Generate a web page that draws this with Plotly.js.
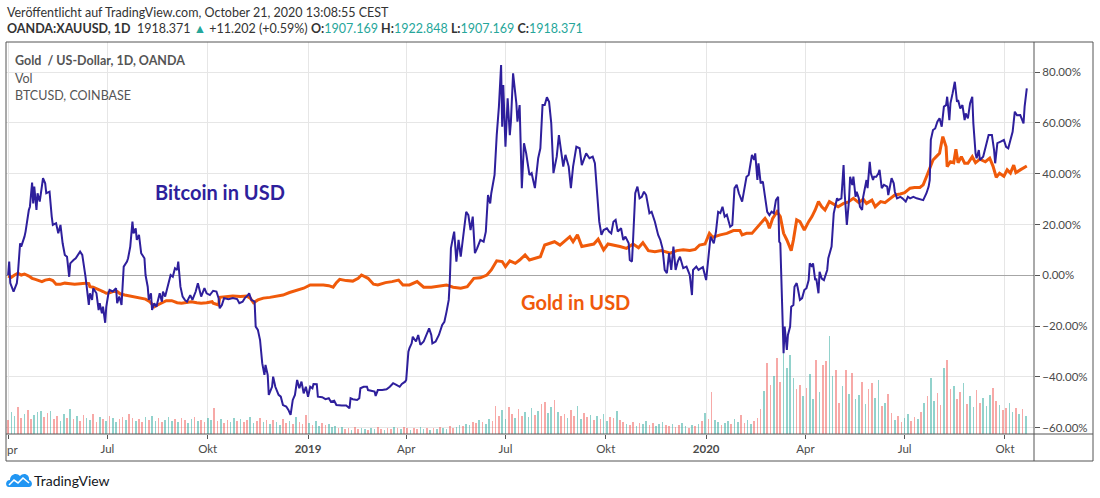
<!DOCTYPE html>
<html><head><meta charset="utf-8">
<script src="https://cdn.plot.ly/plotly-3.0.1.min.js"></script>
<style>html,body{margin:0;padding:0;background:#fff;} #chart{width:1100px;height:498px;}</style>
</head><body><div id="chart"></div>
<script>
// Day offsets are days since 2018-04-01; values are % change (TradingView percent scale)
const btc2018 = [[0,0],[1,5.4],[2,-3.1],[5,-6.4],[8,-3.1],[9,0.8],[11,12.6],[12,11.3],[15,15.2],[16,17.2],[19,25.7],[20,27],[22,36.5],[23,28.3],[24,34.9],[26,25.7],[27,32.3],[29,29],[32,38.2],[34,36.2],[35,32.3],[38,32.9],[40,23.1],[41,19.8],[44,20.5],[46,16.5],[48,19.8],[50,12.6],[52,8],[54,7.3],[56,-0.6],[57,4.7],[60,6],[62,6.7],[66,9.3],[68,8],[71,-0.6],[73,-8.4],[74,-11.7],[75,-7.1],[77,-9.7],[78,-5.1],[81,-7.1],[83,-13.7],[84,-11],[86,-15],[87,-12.4],[89,-18.7],[90,-12.4],[92,-7.1],[93,-5.8],[96,-6.4],[99,-5.1],[100,-11],[102,-8.4],[104,-11.7],[106,3.4],[109,5.4],[110,6.7],[112,11.3],[114,21.1],[115,16.5],[117,18.5],[118,13.9],[120,15.9],[122,8.7],[125,6.7],[126,0.1],[128,-4.5],[129,-9.7],[131,-7.1],[132,-13.7],[134,-11],[136,-12.4],[139,-7.1],[141,-10.4],[142,-6.4],[144,-8.4],[147,-3.8],[149,0.1],[151,-0.6],[153,2.8],[155,2.1],[156,5.4],[158,-4.5],[160,-8.4],[162,-9.7],[164,-10.4],[167,-7.8],[169,-9.7],[172,-6.4],[174,-3.1],[177,-8.4],[180,-5.1],[182,-7.1],[185,-7.8],[188,-6.1],[191,-6.4],[193,-9],[194,-13],[196,-11.7],[198,-9],[202,-9.4],[206,-9],[210,-9.4],[212,-11],[215,-10.4],[217,-9],[220,-7.8],[221,-7.1],[223,-9.7],[226,-10.4],[227,-20.2],[229,-21.5],[231,-25.5],[233,-34.6],[235,-39.2],[236,-35.3],[238,-39.2],[239,-47.1],[242,-43.9],[243,-39.9],[245,-43.9],[248,-47.1],[250,-47.8],[252,-51.1],[255,-51.7],[257,-53],[259,-55],[261,-49.1],[263,-47.1],[265,-41.2],[267,-44.5],[269,-41.9],[271,-46.5],[273,-43.9]];
const btc2019 = [[275,-47.8],[277,-43.9],[279,-44.5],[280,-42.8],[283,-42.9],[284,-47.8],[288,-48],[291,-48.8],[294,-48.4],[296,-49.8],[299,-49.4],[301,-51.1],[306,-51.3],[310,-51.3],[313,-52.4],[314,-48.4],[316,-48.8],[320,-49.1],[322,-48.4],[323,-44.5],[326,-43.9],[329,-43.9],[330,-45.2],[333,-45.4],[336,-45.8],[337,-47.5],[339,-45.2],[343,-45.2],[347,-44.9],[350,-43.9],[353,-42.5],[356,-43.2],[359,-43.9],[361,-42.8],[364,-41.9],[365,-41.2],[367,-30.1],[368,-28.7],[370,-26.8],[371,-24.2],[374,-26.1],[376,-23.5],[378,-27.4],[381,-26.1],[383,-24.2],[386,-20.9],[388,-23.5],[389,-26.8],[392,-26.1],[395,-23.5],[398,-19.6],[400,-18.3],[402,-14.3],[404,-9.7],[405,-1.9],[406,10.6],[408,15.2],[409,17.2],[411,5.4],[413,13.9],[415,7.3],[417,13.9],[420,25],[422,23.7],[424,17.8],[426,23.1],[428,8.7],[430,10.6],[433,13.9],[436,13.2],[438,17.2],[440,31.6],[442,28.3],[443,32.3],[446,39.5],[448,55.2],[450,66.4],[452,82.8],[453,58.5],[454,74.9],[456,50.6],[458,69.7],[460,55.2],[461,60.5],[463,79.5],[466,67.7],[467,60.5],[469,67],[471,34.3],[473,52],[475,48],[478,39.5],[480,40.2],[483,34.3],[486,46.1],[488,50],[490,67],[492,67],[494,70.1],[496,68.3],[498,59.8],[500,40.2],[503,46.7],[505,55.2],[507,48],[509,42.8],[511,47.4],[514,42.8],[516,34.3],[518,42.8],[521,50.6],[524,50],[526,43.4],[528,45.4],[530,48],[533,46.1],[536,46.7],[538,44.1],[540,33.6],[542,21.1],[544,15.9],[546,17.8],[549,18.5],[551,17.2],[553,16.5],[555,21.1],[557,21.8],[559,17.2],[562,18.5],[564,13.9],[566,15.2],[569,12.6],[570,6],[572,5.4],[573,13.9],[575,32.3],[577,34.9],[579,30.3],[581,30.9],[583,32.9],[585,31.6],[588,24.4],[590,25],[593,21.1],[596,15.9],[598,13.9],[600,10.6],[602,2.1],[604,0.8],[606,8.7],[608,2.1],[610,11.3],[612,2.1],[614,5.4],[616,7.3],[619,2.8],[622,3.4],[625,0.1],[627,-7.8],[628,2.1],[631,3.4],[633,2.1],[634,2.4],[637,3.2]];
const btc2020 = [[640,-1.9],[642,6],[644,15.2],[647,12.6],[649,17.2],[651,25],[653,24.5],[655,27],[657,23.1],[659,23.8],[662,19.1],[664,19.8],[666,34.3],[668,35.6],[670,32.3],[673,29],[675,34.9],[677,38.8],[679,39.5],[681,46.1],[682,47.4],[684,45.4],[685,48],[687,37.5],[688,44.1],[690,36.2],[692,36.9],[694,30.9],[696,25],[698,23.7],[700,25],[702,24.4],[704,29.6],[706,30.9],[707,13.2],[708,12.6],[710,-12.4],[711,-30.7],[712,-20.2],[714,-29.4],[715,-23.5],[717,-20.2],[718,-12.4],[720,-11.7],[721,-4.5],[723,-3.1],[724,-5],[726,-9.7],[728,-9],[730,-5.8],[732,-5.1],[734,-1.9],[735,4.7],[737,3.4],[738,4.7],[740,-1.9],[741,-1.3],[743,-7.1],[744,1.4],[746,-1.3],[748,-1.9],[751,2.1],[752,6.7],[754,10],[755,11.3],[757,24.4],[758,26.4],[760,30.3],[761,29.6],[764,30.3],[766,43.4],[767,32.3],[769,19.8],[771,29.6],[772,38.8],[774,35.5],[775,38.8],[777,30.9],[778,32.9],[780,30.3],[781,27],[783,25.7],[784,30.9],[786,36.2],[787,37.5],[788,34.3],[790,44.7],[791,40.2],[793,37.5],[794,38.8],[796,38.8],[798,40.2],[799,41.5],[801,34.3],[803,35.6],[806,34.9],[807,31.6],[810,38.2],[812,36.2],[813,32.9],[815,30.3],[818,30.9],[820,30.3],[823,29],[825,30.9],[827,30.3],[830,30.9],[833,30.3],[836,29.9],[839,29.6],[842,32.3],[844,34.9],[845,37.5],[846,53.3],[848,57.2],[850,57.8],[852,60.5],[854,61.8],[856,58.5],[858,66.4],[860,67],[861,70.3],[863,61.1],[864,67.7],[866,71.7],[868,76.2],[870,68.3],[871,69],[873,65.7],[875,67],[877,61.1],[878,63.7],[880,61.8],[882,67.7],[884,70.3],[885,59.8],[887,48],[888,46.1],[890,49.3],[891,45.4],[894,46.7],[897,51.3],[899,55.2],[902,55.2],[904,49.3],[905,44.1],[907,52],[910,52.6],[913,53.3],[915,50.6],[917,50],[919,53.3],[921,56.5],[923,64.4],[925,63],[928,63.1],[931,59.8],[932,66.4],[933,70.3],[934,73.6]];

const gold2018 = [[0,-0.3],[3,-0.8],[6,0.1],[9,0.8],[12,0.1],[15,0.5],[19,-0.3],[22,-1.2],[25,-1.6],[28,-2.1],[31,-2.5],[34,-1.9],[38,-1.6],[41,-2.1],[44,-3.5],[48,-3.5],[52,-3.1],[57,-3.3],[61,-3.5],[66,-3.3],[71,-3.1],[74,-3.3],[75,-4.5],[78,-4.7],[81,-5.1],[84,-5.8],[87,-6.4],[90,-7.1],[93,-6.9],[96,-6.4],[100,-6.4],[103,-7.4],[107,-7.8],[112,-8.2],[116,-8.4],[121,-8.7],[126,-9.4],[130,-10.4],[134,-12.4],[137,-11.7],[141,-10.8],[145,-10],[150,-10],[155,-10.8],[159,-11],[164,-10.8],[168,-10.4],[173,-10.8],[177,-11],[182,-10.8],[187,-10.4],[188,-11],[193,-11.7],[194,-8.7],[200,-8.4],[206,-8.2],[213,-8.4],[219,-8.2],[222,-9],[225,-10.8],[229,-9.7],[234,-9],[240,-8.7],[246,-8.2],[252,-7.8],[258,-6.8],[265,-5.8],[271,-5.1]];
const gold2019 = [[277,-3.8],[283,-3.8],[289,-3.8],[294,-4.1],[298,-4.7],[301,-2.9],[304,-1.6],[310,-2.1],[316,-2.3],[321,-1.2],[324,0.1],[330,-1.2],[335,-3.5],[339,-3.8],[346,-2.9],[352,-2.5],[358,-1.9],[362,-3.8],[368,-3.8],[375,-2.5],[378,-3.8],[381,-4.7],[388,-4.7],[396,-4.3],[402,-3.8],[408,-4.7],[415,-5.1],[421,-4.5],[427,-1.2],[433,-1],[439,0.1],[443,2.1],[448,5.7],[453,5.4],[456,3.4],[460,5.7],[465,4.7],[469,6],[474,8],[478,6],[483,6.5],[488,7.3],[492,11.9],[497,12.6],[501,13.2],[506,11.9],[511,13.9],[515,15.2],[518,13.2],[522,15.9],[526,11.3],[532,11.9],[537,12.3],[541,14.2],[546,10],[550,12.3],[555,11.9],[561,11.3],[567,10.6],[573,12.3],[578,10.8],[582,12.8],[587,9.7],[593,9.3],[599,9.7],[607,8.7],[613,9.7],[619,10],[625,9.8],[630,10.2],[634,11.9],[639,12.3]];
const gold2020 = [[643,16.5],[646,15],[653,15.9],[659,16.5],[665,17.6],[671,17.6],[673,15.9],[677,16.5],[682,16.5],[686,18.5],[691,21.1],[694,22.4],[696,21.1],[698,18.5],[701,22.4],[705,25],[708,23.1],[711,16.5],[714,13.9],[718,9.7],[720,13.9],[723,21.8],[726,21.1],[730,17.8],[734,21.1],[737,23.1],[740,25.7],[743,29],[746,27],[749,25.7],[753,29],[757,28],[761,27],[766,28.3],[770,28.8],[775,30.3],[780,28.6],[784,30],[787,28.3],[792,29.6],[795,27],[800,29],[804,28.6],[809,30.3],[813,31.6],[818,32],[822,32.5],[827,34.3],[831,34.6],[836,34.6],[839,35.6],[842,38.8],[845,42.1],[848,45.4],[851,46.7],[854,48],[856,52.6],[857,54.6],[860,50.6],[861,42.8],[864,44.7],[867,44.3],[869,49.6],[871,44.3],[874,46.7],[877,44.1],[880,44.1],[884,46.7],[887,44.3],[891,45.7],[896,44.7],[900,46.1],[903,43],[906,38.6],[909,40.2],[913,39],[916,41.5],[919,40.2],[922,43.4],[924,40.4],[928,41.5],[931,42.1],[934,43]];

// Volume (arbitrary units), one value every 3 days from 2018-04-01
const volume = [
14,22,18,27,16,20,24,15,19,22, 23,17,21,23,15,18,13,20,16,25,
15,18,13,19,16,14,20,12,17,15, 13,18,16,12,15,17,14,20,16,13,
15,12,17,14,18,13,16,12,14,17, 13,15,12,16,14,11,15,17,13,14,
12,16,14,26,13,15,11,14,12,16, 13,15,12,14,17,11,13,16,12,14,
10,14,12,9,15,11,13,10,17,12, 10,19,11,9,13,8,11,9,10,7,
8,6,7,5,6,4,7,5,6,5, 4,6,5,7,5,4,6,5,7,6,
5,7,6,4,6,5,7,5,6,4, 6,5,7,6,5,8,6,7,9,8,
10,9,12,11,14,12,10,15,13,28, 18,24,15,27,20,16,25,18,22,17,
26,19,23,30,32,21,27,34,22,18, 20,16,24,18,28,15,21,17,19,14,
18,15,20,13,17,16,23,14,12,10, 9,12,8,11,10,13,9,11,8,10,
12,9,8,10,7,9,11,8,6,9, 8,10,13,21,15,42,14,12,9,11,
13,10,15,12,19,11,14,10,13,16, 25,43,71,49,58,76,52,84,66,79,
56,45,49,38,46,60,35,74,42,69, 73,98,58,64,31,48,64,40,61,35,
39,52,30,45,51,36,54,28,31,40, 21,14,18,12,16,20,13,17,15,22,
31,38,56,33,41,29,66,74,45,48, 35,42,51,30,38,27,44,31,36,28,
39,46,33,29,24,26,31,22,26,20, 25,18];
const volDir = "duuddudduu"+"uddudduudu"+"dudduuddud"+"uduudduddu"+"dduduudduu"+"ududduudud"+"duuddudduu"+"dudduuddud"+"uduuddudud"+"dduduudduu"+
               "ududdudduu"+"duudduddud"+"uddudduudu"+"duduudduud"+"uudduduudd"+"duuddudduu"+"ududduudud"+"dudduuddud"+"uduudduddu"+"dduduudduu"+
               "uddudduudu"+"dududduudu"+"uduudduudd"+"duddudduuu"+"udduduudud"+"duuddududu"+"ududduudud"+"dudduuddud"+"uduudduddu"+"dduduudduu"+
               "uddudduudu"+"du";
const volStepDays = 3;

const tickDays = [0,91,183,275,365,456,548,640,731,822,914];
const tickLabels = ['Apr','Jul','Okt','<b>2019</b>','Apr','Jul','Okt','<b>2020</b>','Apr','Jul','Okt'];
const pctTicks = [-60,-40,-20,0,20,40,60,80];

const DAY0 = Date.UTC(2018,3,1);
function dayToDate(d){
  const t = new Date(DAY0 + d*86400000);
  const p = n => String(n).padStart(2,'0');
  return t.getUTCFullYear()+'-'+p(t.getUTCMonth()+1)+'-'+p(t.getUTCDate())+' '+p(t.getUTCHours())+':'+p(t.getUTCMinutes())+':'+p(t.getUTCSeconds());
}
// pixel -> paper helpers for decorations (plot area: x 6..1034, y 42..434)
const PL=6, PT=42, PW=1028, PH=392;
const px = x => (x-PL)/PW;
const py = y => (PT+PH-y)/PH;

const btc = btc2018.concat(btc2019, btc2020);
const gold = gold2018.concat(gold2019, gold2020);

const F = 'Lato, "Liberation Sans", Arial, sans-serif';
const TEAL = '#26a69a';

const volTrace = {
  type:'bar', xaxis:'x', yaxis:'y',
  x: volume.map((v,i)=>dayToDate(i*volStepDays)),
  y: volume,
  width: 1.5*86400000,
  marker:{color: volume.map((v,i)=> volDir[i]==='u' ? 'rgba(38,166,154,0.5)' : 'rgba(239,83,80,0.5)'), line:{width:0}},
  hoverinfo:'skip'
};
const goldTrace = {
  type:'scatter', mode:'lines', xaxis:'x', yaxis:'y2',
  x: gold.map(p=>dayToDate(p[0])), y: gold.map(p=>p[1]),
  line:{color:'#f05a0a', width:3}, hoverinfo:'skip'
};
const btcTrace = {
  type:'scatter', mode:'lines', xaxis:'x', yaxis:'y2',
  x: btc.map(p=>dayToDate(p[0])), y: btc.map(p=>p[1]),
  line:{color:'#2e1f9c', width:2}, hoverinfo:'skip'
};

function fmtPct(v){ const s = Math.abs(v).toFixed(2)+'%'; return v<0 ? '\u2212'+s : s; }

const frame = '#555555';
const shapes = [
  {type:'rect', xref:'paper', yref:'paper', x0:px(6), x1:px(1093), y0:py(461), y1:py(42), line:{color:frame, width:1}, layer:'above'},
  {type:'line', xref:'paper', yref:'paper', x0:px(1034), x1:px(1034), y0:py(461), y1:py(42), line:{color:frame, width:1}, layer:'above'},
  {type:'line', xref:'paper', yref:'paper', x0:px(6), x1:px(1093), y0:py(434), y1:py(434), line:{color:frame, width:1}, layer:'above'},
];
// TradingView logo (cloud)
function pth(cmds){ return cmds.map(c => typeof c === 'string' ? c : px(c[0]).toFixed(5)+','+py(c[1]).toFixed(5)).join(' '); }
shapes.push({type:'path', xref:'paper', yref:'paper', layer:'above',
  path: pth(['M',[9,487],'C',[5,487],[5,480],[10,480],'C',[10,474],[17,472],[20,476],'C',[23,472],[30,474],[29,480],'C',[33,481],[33,487],[29,487],'Z']),
  fillcolor:'#2196f3', line:{width:0}});
shapes.push({type:'path', xref:'paper', yref:'paper', layer:'above',
  path: pth(['M',[9,485],'L',[14,480],'L',[18,483],'L',[23,478],'L',[29,483]]),
  line:{color:'#ffffff', width:1.6}});

const ann = (x,y,text,font,extra) => Object.assign({xref:'paper', yref:'paper', x:px(x), y:py(y), xanchor:'left', yanchor:'middle', showarrow:false, text, font}, extra||{});
const annotations = [
  ann(5, 12, 'Veröffentlicht auf TradingView.com, October 21, 2020 13:08:55 CEST', {family:F, size:12.5, color:'#333'}),
  ann(5, 29, '<b>OANDA:XAUUSD, 1D</b>  1918.371 <span style="color:'+TEAL+'">▲</span> +11.202 (+0.59%) <b>O:</b><span style="color:'+TEAL+'">1907.169</span> <b>H:</b><span style="color:'+TEAL+'">1922.848</span> <b>L:</b><span style="color:'+TEAL+'">1907.169</span> <b>C:</b><span style="color:'+TEAL+'">1918.371</span>', {family:F, size:12.5, color:'#333'}),
  ann(13, 61, '<b>Gold  / US-Dollar, 1D, OANDA</b>', {family:F, size:12.5, color:'#555'}),
  ann(13, 78, 'Vol', {family:F, size:12.5, color:'#555'}),
  ann(13, 95, 'BTCUSD, COINBASE', {family:F, size:12.5, color:'#555'}),
  ann(153, 192, '<b>Bitcoin in USD</b>', {family:F, size:20, color:'#2e1f9c'}),
  ann(519, 302, '<b>Gold in USD</b>', {family:F, size:20, color:'#f05a0a'}),
  ann(32, 480, 'TradingView', {family:F, size:14, color:'#131722'}),
  // left-clipped first month label ("Apr" cut by the frame)
  ann(5, 449, 'pr', {family:F, size:11.5, color:'#4a4a4a'}),
];

const layout = {
  width:1100, height:498,
  margin:{l:PL, r:1100-PL-PW, t:PT, b:498-PT-PH, pad:0},
  paper_bgcolor:'#ffffff', plot_bgcolor:'#ffffff',
  showlegend:false, bargap:0,
  xaxis:{type:'date', range:[dayToDate(-1.93), dayToDate(940.6)],
    tickmode:'array', tickvals: tickDays.map(dayToDate), ticktext: tickLabels,
    showgrid:true, gridcolor:'#e6e6e6', gridwidth:1, zeroline:false, showline:false,
    ticks:'outside', ticklen:4, tickcolor:'#555', tickfont:{family:F, size:11.5, color:'#4a4a4a'}, fixedrange:true},
  yaxis:{range:[0,392], visible:false, fixedrange:true},
  yaxis2:{overlaying:'y', side:'right', anchor:'x', range:[-62.5, 91.85],
    tickmode:'array', tickvals:pctTicks, ticktext:pctTicks.map(fmtPct),
    showgrid:true, gridcolor:'#e6e6e6', gridwidth:1,
    zeroline:true, zerolinecolor:'#a6a6a6', zerolinewidth:1,
    showline:false, ticks:'outside', ticklen:5, tickcolor:'#555',
    tickfont:{family:F, size:11.5, color:'#4a4a4a'}, fixedrange:true},
  shapes, annotations
};

Plotly.newPlot('chart', [volTrace, goldTrace, btcTrace], layout, {staticPlot:true, displayModeBar:false});
</script></body></html>
